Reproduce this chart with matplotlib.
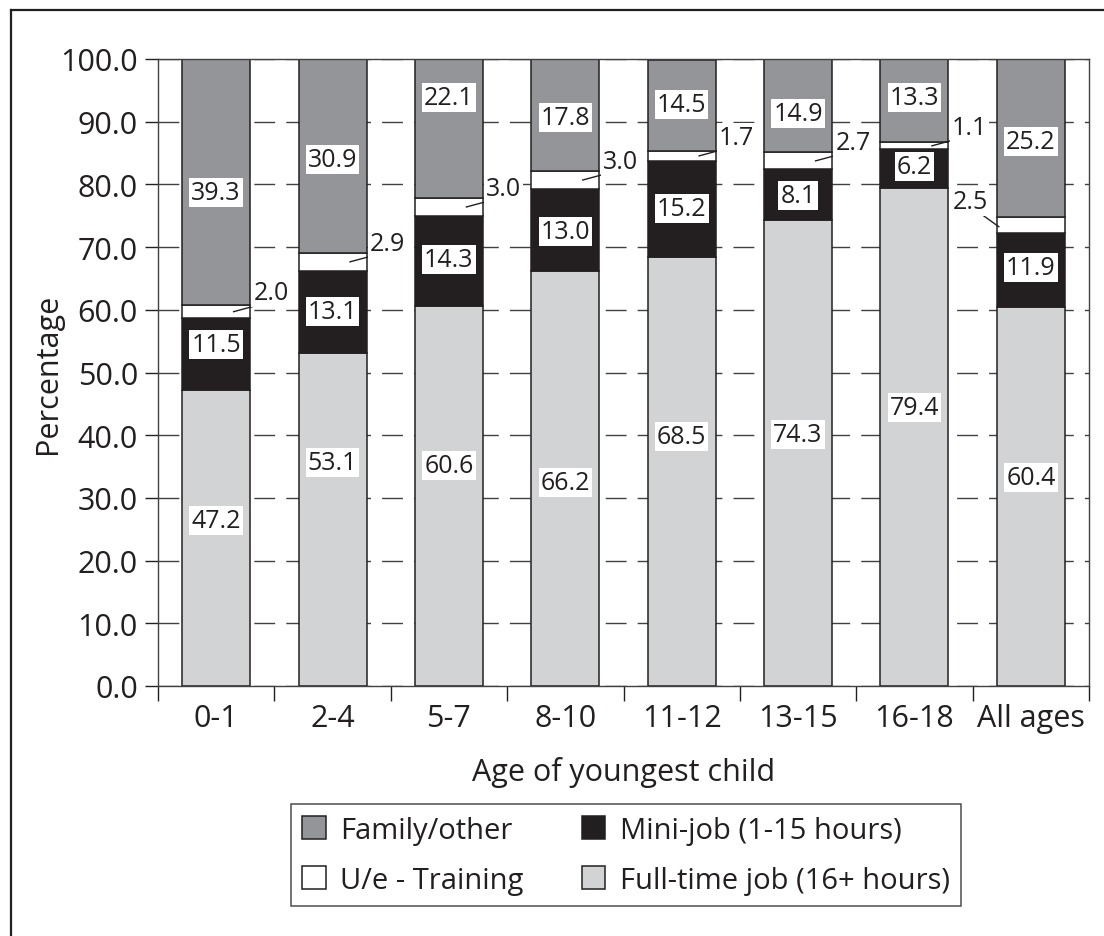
import numpy as np
from matplotlib import pyplot as plt
from matplotlib.lines import Line2D
from matplotlib.ticker import FormatStrFormatter

plt.rcParams['font.family'] = ['Open Sans', 'DejaVu Sans']

# data (percentages)
categories = ['0-1', '2-4', '5-7', '8-10', '11-12', '13-15', '16-18', 'All ages']
full_time = [47.2, 53.1, 60.6, 66.2, 68.5, 74.3, 79.4, 60.4]
mini_job = [11.5, 13.1, 14.3, 13.0, 15.2, 8.1, 6.2, 11.9]
ue_training = [2.0, 2.9, 3.0, 3.0, 1.7, 2.7, 1.1, 2.5]
family = [39.3, 30.9, 22.1, 17.8, 14.5, 14.9, 13.3, 25.2]

# where inside each segment the label sits (fraction of segment height)
ft_frac = [0.56, 0.67, 0.58, 0.49, 0.58, 0.54, 0.56, 0.55]
mj_frac = [0.63, 0.51, 0.52, 0.48, 0.50, 0.48, 0.55, 0.54]
fa_frac = [0.46, 0.48, 0.72, 0.48, 0.51, 0.42, 0.54, 0.48]
ue_side = ['right'] * 7 + ['left']

ink = '#231f20'
c_family = '#939598'
c_mini = '#231f20'
c_ue = '#ffffff'
c_full = '#d1d3d4'

fig = plt.figure(figsize=(11.04, 9.37), dpi=100)
ax = fig.add_axes([158 / 1104, 1 - 687 / 937, (1089 - 158) / 1104, (687 - 60) / 937])

x = np.arange(len(categories))
w = 0.585
series = [
    (full_time, 'Full-time job (16+ hours)', c_full),
    (mini_job, 'Mini-job (1-15 hours)', c_mini),
    (ue_training, 'U/e - Training', c_ue),
    (family, 'Family/other', c_family),
]
bottom = np.zeros(len(x))
bars = {}
bottoms = {}
for vals, name, col in series:
    bars[name] = ax.bar(x, vals, w, bottom=bottom, color=col, edgecolor=ink,
                        linewidth=1.1, label=name, zorder=2)
    bottoms[name] = bottom.copy()
    bottom = bottom + np.array(vals)

box = dict(boxstyle='square,pad=0.08', fc='white', ec='none')
lab_kw = dict(ha='center', va='center', fontsize=18, color=ink, bbox=box, zorder=4)

for vals, name, fr in [(full_time, 'Full-time job (16+ hours)', ft_frac),
                       (mini_job, 'Mini-job (1-15 hours)', mj_frac),
                       (family, 'Family/other', fa_frac)]:
    for i, v in enumerate(vals):
        ax.text(x[i], bottoms[name][i] + v * fr[i], f'{v:.1f}', **lab_kw)

# small U/e values get call-outs
for i, v in enumerate(ue_training):
    mid = bottoms['U/e - Training'][i] + v / 2
    if ue_side[i] == 'right':
        ax.plot([x[i] + 0.15, x[i] + 0.33], [mid, mid + 0.9], color=ink, lw=1, zorder=3)
        ax.text(x[i] + 0.32, mid + 3.0, f'{v:.1f}', ha='left', va='center',
                fontsize=18, color=ink, bbox=box, zorder=4)
    else:
        ax.plot([x[i] - 0.44, x[i] - 0.275], [mid + 1.9, mid - 0.3], color=ink, lw=1, zorder=3)
        ax.text(x[i] - 0.37, mid + 3.8, f'{v:.1f}', ha='right', va='center',
                fontsize=18, color=ink, bbox=box, zorder=4)

ax.set_xlim(-0.5, len(categories) - 0.5)
ax.set_ylim(0, 100)
ax.set_yticks(np.arange(0, 101, 10))
ax.yaxis.set_major_formatter(FormatStrFormatter('%.1f'))
ax.set_xticks(x)
ax.set_xticklabels(categories)
ax.set_xticks(np.arange(-0.5, len(categories), 1), minor=True)

ax.tick_params(axis='y', direction='out', length=9.5, width=1, pad=5,
               labelsize=22, color=ink, labelcolor=ink)
ax.tick_params(axis='x', which='major', length=0, pad=12, labelsize=22, labelcolor=ink)
ax.tick_params(axis='x', which='minor', length=11, width=1, direction='out', color=ink)

ax.set_axisbelow(True)
ax.yaxis.grid(True, color='#414042', linestyle=(0, (15, 8)), linewidth=1)
for s in ax.spines.values():
    s.set_color('#414042')
    s.set_linewidth(1)

ax.set_ylabel('Percentage', fontsize=22, color=ink)
ax.yaxis.set_label_coords(-0.102, 0.5)
ax.set_xlabel('Age of youngest child', fontsize=22, color=ink, labelpad=17)

# legend (column-major fill)
names = ['Family/other', 'U/e - Training', 'Mini-job (1-15 hours)', 'Full-time job (16+ hours)']
leg = fig.legend([bars[n] for n in names], names, loc='center',
                 bbox_to_anchor=(0.567, 0.0864), ncol=2, fontsize=21,
                 frameon=True, fancybox=False, edgecolor=ink,
                 handlelength=0.8, handleheight=0.8, handletextpad=0.5,
                 columnspacing=2.0, labelspacing=0.72, borderpad=0.38,
                 borderaxespad=0)
leg.get_frame().set_linewidth(1.1)
for t in leg.get_texts():
    t.set_color(ink)

# page border (top and left only)
fig.add_artist(Line2D([11 / 1104, 1], [1 - 11 / 937, 1 - 11 / 937],
                      transform=fig.transFigure, color=ink, lw=1.6))
fig.add_artist(Line2D([11 / 1104, 11 / 1104], [0, 1 - 11 / 937],
                      transform=fig.transFigure, color=ink, lw=1.6))

fig.savefig('out.png', dpi=100)
